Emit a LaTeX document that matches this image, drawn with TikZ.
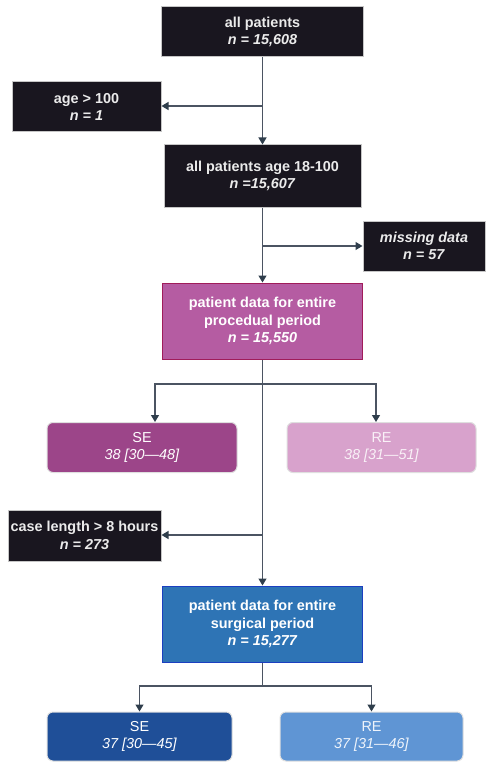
\documentclass[tikz,border=0pt]{standalone}
\usepackage{fontspec}
\setmainfont{Liberation Sans}
\usetikzlibrary{arrows.meta}

\definecolor{darkbox}{HTML}{19161F}
\definecolor{procfill}{HTML}{B55CA2}
\definecolor{procline}{HTML}{A01C5A}
\definecolor{seproc}{HTML}{9C4589}
\definecolor{reproc}{HTML}{D8A2CC}
\definecolor{surgfill}{HTML}{2E74B5}
\definecolor{surgline}{HTML}{1C3FC0}
\definecolor{sesurg}{HTML}{1F4F98}
\definecolor{resurg}{HTML}{5F95D4}
\definecolor{flowline}{HTML}{4B5462}
\definecolor{tipcol}{HTML}{2F3E4C}

\begin{document}
\begin{tikzpicture}[x=1pt, y=-1pt,
    box/.style={rectangle, inner sep=0pt, align=center, text=white,
      font=\fontsize{14.4}{17.5}\selectfont\bfseries, line width=1pt},
    darkbox/.style={box, fill=darkbox, draw=gray!45, text=white!92!black},
    mainbox/.style={box, minimum width=200pt, minimum height=76pt},
    groupbox/.style={box, rounded corners=6pt, draw=gray!25, minimum height=50pt,
      font=\fontsize{14.4}{17.5}\selectfont},
    line/.style={draw=flowline, line width=1.2pt},
    arrow/.style={line, -{Triangle[width=8pt,length=7pt,color=tipcol]}}]
  \useasboundingbox (0,0) rectangle (488,762);

  % 1. exclusion steps
  \node[darkbox, minimum width=202pt, minimum height=50pt] (all) at (262.5,32)
    {all patients\\ \textit{n = 15,608}};
  \node[darkbox, minimum width=149pt, minimum height=50pt] (age100) at (86.5,107)
    {age > 100\\ \textit{n = 1}};
  \node[darkbox, minimum width=197pt, minimum height=62pt] (age18) at (262.5,176)
    {all patients age 18-100\\ \textit{n =15,607}};
  \node[darkbox, minimum width=122pt, minimum height=50pt] (missing) at (424,246)
    {\textit{missing data}\\ \textit{n = 57}};

  % 2. procedual period
  \node[mainbox, fill=procfill, draw=procline] (proc) at (262.5,321)
    {patient data for entire\\ procedual period\\ \textit{n = 15,550}};
  \node[groupbox, fill=seproc, minimum width=190pt] (se1) at (142,447.5)
    {SE\\ \textit{38 [30---48]}};
  \node[groupbox, fill=reproc, minimum width=189pt, text=white!85!reproc] (re1) at (381.5,447.5)
    {RE\\ \textit{38 [31---51]}};

  % 3. surgical period
  \node[darkbox, minimum width=153pt, minimum height=51pt] (caselen) at (84.5,535.5)
    {case length > 8 hours\\ \textit{n = 273}};
  \node[mainbox, fill=surgfill, draw=surgline] (surg) at (262.5,624)
    {patient data for entire\\ surgical period\\ \textit{n = 15,277}};
  \node[groupbox, fill=sesurg, minimum width=185pt, minimum height=49pt] (se2) at (139.5,736.5)
    {SE\\ \textit{37 [30---45]}};
  \node[groupbox, fill=resurg, minimum width=183pt, minimum height=49pt, text=white!90!resurg] (re2) at (371.5,736.5)
    {RE\\ \textit{37 [31---46]}};

  % 4. branch points on the main line
  \coordinate (b1) at (262.5,106);
  \coordinate (b2) at (262.5,246);
  \coordinate (s1) at (262.5,384);
  \coordinate (b3) at (262.5,535);
  \coordinate (s2) at (262.5,686);

  % 5. connectors
  \draw[arrow] (all) -- (age18);
  \draw[arrow] (b1) -- (age100.east |- b1);
  \draw[arrow] (age18) -- (proc);
  \draw[arrow] (b2) -- (missing.west |- b2);
  \draw[arrow] (proc) -- (surg);
  \draw[arrow] (s1) -| ([xshift=13pt]se1.north);
  \draw[arrow] (s1) -| ([xshift=-5.5pt]re1.north);
  \draw[arrow] (b3) -- (caselen.east |- b3);
  \draw[line] (surg) -- (s2);
  \draw[arrow] (s2) -| (se2.north);
  \draw[arrow] (s2) -| (re2.north);
\end{tikzpicture}
\end{document}
